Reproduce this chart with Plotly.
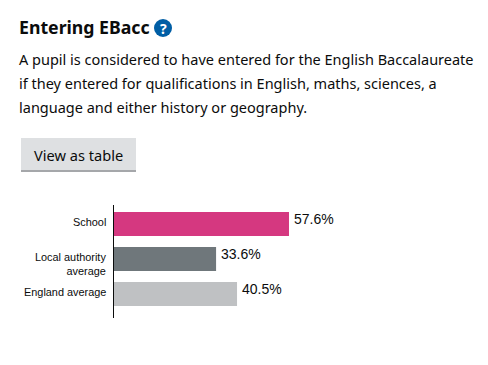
import plotly.graph_objects as go

categories = ["School", "Local authority<br>average", "England average"]
values = [57.6, 33.6, 40.5]
colors = ["#d53880", "#6f777b", "#bfc1c3"]
title = "Entering EBacc"
body_lines = [
    "A pupil is considered to have entered for the English Baccalaureate",
    "if they entered for qualifications in English, maths, sciences, a",
    "language and either history or geography.",
]
button_text = "View as table"

W, H = 488, 365
TEXT_FONT = "Noto Sans"
CHART_FONT = "Liberation Sans"
def px(x): return x / W
def py(y): return 1 - y / H

fig = go.Figure(go.Bar(
    x=values, y=list(range(len(categories))), orientation="h",
    marker=dict(color=colors, line_width=0), width=24 / 35,
    hoverinfo="skip",
))

annotations = []
def label(x, y, text, size, color="#0b0c0c", font=TEXT_FONT):
    annotations.append(dict(xref="paper", yref="paper", x=px(x), y=py(y), text=text,
                            showarrow=False, xanchor="left", yanchor="middle",
                            font=dict(family=font, size=size, color=color)))

label(17, 27, f"<b>{title}</b>", 17.7)
for i, line in enumerate(body_lines):
    label(17, 59 + i * 24, line, 14.5)
label(32, 155, button_text, 14.6)
annotations.append(dict(xref="paper", yref="paper", x=px(163), y=py(28), text="<b>?</b>",
                        showarrow=False, xanchor="center", yanchor="middle",
                        font=dict(family=TEXT_FONT, size=14, color="white")))
for i, v in enumerate(values):
    annotations.append(dict(xref="x", yref="y", x=v, y=i, text=f"{v}%", showarrow=False,
                            xanchor="left", yanchor="middle", xshift=3, yshift=5,
                            font=dict(family=CHART_FONT, size=14, color="#0b0c0c")))
label_shifts = [2, -5, 2]
for i, c in enumerate(categories):
    annotations.append(dict(xref="paper", yref="y", x=px(108), y=i, text=c, showarrow=False,
                            xanchor="right", yanchor="middle", align="right", yshift=label_shifts[i],
                            font=dict(family=CHART_FONT, size=10.9, color="#0b0c0c")))

shapes = [
    dict(type="circle", xref="paper", yref="paper", x0=px(154), x1=px(172), y0=py(37), y1=py(19),
         fillcolor="#005ea5", line_width=0, layer="below"),
    dict(type="rect", xref="paper", yref="paper", x0=px(21), x1=px(136), y0=py(172), y1=py(138),
         fillcolor="#a5a7aa", line_width=0, layer="below"),
    dict(type="rect", xref="paper", yref="paper", x0=px(21), x1=px(136), y0=py(170), y1=py(138),
         fillcolor="#dee0e2", line_width=0, layer="below"),
]

fig.update_layout(
    width=W, height=H, margin=dict(l=0, r=0, t=0, b=0), autosize=False,
    paper_bgcolor="white", plot_bgcolor="white", showlegend=False,
    annotations=annotations, shapes=shapes,
    xaxis=dict(domain=[px(114), px(420)], range=[0, 306 / 3.038], visible=False, fixedrange=True),
    yaxis=dict(domain=[py(318), py(205)], range=[2 + 24 / 35, -19 / 35], fixedrange=True,
               tickvals=list(range(len(categories))), showticklabels=False,
               showline=True, linecolor="#0b0c0c", linewidth=1, showgrid=False, zeroline=False,
               ticks=""),
)
fig.write_html("out.html", config=dict(displayModeBar=False),
               post_script="document.body.style.margin='0';")
